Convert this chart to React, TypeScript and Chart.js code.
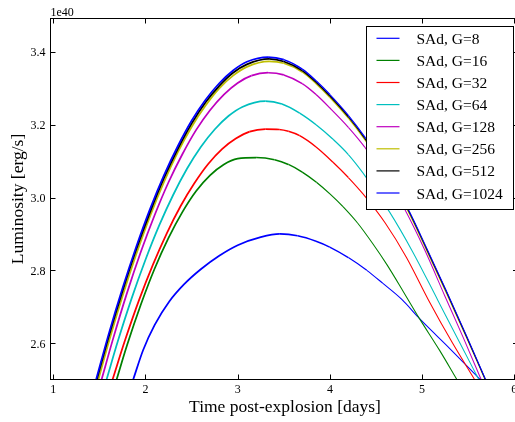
import React, { useEffect, useRef } from "react";
import { Chart, registerables } from "chart.js";

Chart.register(...registerables);

// ---- data (luminosity in units of 1e40 erg/s, time in days) ----
const SERIES_LABELS = ["SAd, G=8", "SAd, G=16", "SAd, G=32", "SAd, G=64", "SAd, G=128", "SAd, G=256", "SAd, G=512", "SAd, G=1024"];
const SERIES_COLORS = ["#0000ff", "#008000", "#ff0000", "#00bfbf", "#bf00bf", "#bfbf00", "#000000", "#0000ff"];

const T_G8 = [1.867, 1.975, 2.1, 2.26, 2.42, 2.6, 2.8, 3.0, 3.25, 3.457, 3.65, 3.85, 3.998, 4.2, 4.4, 4.575, 4.78, 4.97, 5.16, 5.3, 5.63];
const L_G8 = [2.5, 2.581, 2.65, 2.715, 2.762, 2.803, 2.84, 2.869, 2.891, 2.9, 2.895, 2.88, 2.864, 2.835, 2.8, 2.764, 2.72, 2.668, 2.62, 2.585, 2.5];

const T_G16 = [1.687, 1.8, 1.95, 2.1, 2.25, 2.4, 2.55, 2.7, 2.85, 3.0, 3.2, 3.4, 3.55, 3.7, 3.854, 4.0, 4.142, 4.3, 4.46, 4.62, 4.8, 4.97, 5.19, 5.377];
const L_G16 = [2.5, 2.594, 2.706, 2.805, 2.889, 2.96, 3.018, 3.061, 3.091, 3.107, 3.11, 3.104, 3.091, 3.07, 3.042, 3.01, 2.975, 2.93, 2.875, 2.815, 2.74, 2.668, 2.58, 2.5];

const T_G32 = [1.643, 1.78, 1.93, 2.08, 2.23, 2.38, 2.53, 2.68, 2.83, 2.98, 3.13, 3.3, 3.45, 3.55, 3.672, 3.85, 4.034, 4.2, 4.359, 4.6, 4.829, 5.07, 5.33, 5.569];
const L_G32 = [2.5, 2.609, 2.718, 2.815, 2.901, 2.976, 3.039, 3.092, 3.133, 3.162, 3.181, 3.188, 3.187, 3.182, 3.17, 3.139, 3.097, 3.055, 3.01, 2.93, 2.836, 2.718, 2.6, 2.5];

const T_G64 = [1.578, 1.7, 1.85, 2.0, 2.15, 2.3, 2.45, 2.6, 2.75, 2.9, 3.05, 3.3, 3.48, 3.672, 3.85, 4.034, 4.2, 4.36, 4.648, 4.9, 5.17, 5.41, 5.615];
const L_G64 = [2.5, 2.605, 2.723, 2.829, 2.924, 3.007, 3.079, 3.139, 3.187, 3.224, 3.249, 3.265, 3.257, 3.232, 3.2, 3.16, 3.118, 3.067, 2.96, 2.85, 2.718, 2.6, 2.5];

const T_G128 = [1.524, 1.65, 1.8, 1.95, 2.1, 2.25, 2.4, 2.55, 2.7, 2.85, 3.0, 3.15, 3.33, 3.5, 3.7, 3.85, 4.0, 4.2, 4.38, 4.6, 4.8, 5.03, 5.244, 5.45, 5.64];
const L_G128 = [2.5, 2.613, 2.738, 2.851, 2.952, 3.042, 3.119, 3.186, 3.24, 3.283, 3.315, 3.335, 3.343, 3.337, 3.313, 3.283, 3.246, 3.193, 3.138, 3.058, 2.973, 2.855, 2.731, 2.613, 2.5];

const T_G256 = [1.49, 1.6, 1.75, 1.9, 2.05, 2.2, 2.35, 2.5, 2.65, 2.8, 2.95, 3.1, 3.34, 3.5, 3.7, 3.85, 4.0, 4.2, 4.38, 4.6, 4.846, 5.05, 5.26, 5.48, 5.682];
const L_G256 = [2.5, 2.601, 2.728, 2.844, 2.949, 3.042, 3.124, 3.194, 3.252, 3.3, 3.335, 3.359, 3.374, 3.369, 3.345, 3.313, 3.275, 3.218, 3.158, 3.073, 2.963, 2.854, 2.739, 2.616, 2.5];

const T_G512 = [1.473, 1.6, 1.75, 1.9, 2.05, 2.2, 2.35, 2.5, 2.65, 2.8, 2.95, 3.1, 3.34, 3.5, 3.7, 3.85, 4.0, 4.2, 4.38, 4.6, 4.846, 5.05, 5.26, 5.48, 5.686];
const L_G512 = [2.5, 2.616, 2.742, 2.857, 2.96, 3.053, 3.133, 3.203, 3.261, 3.307, 3.343, 3.366, 3.381, 3.374, 3.349, 3.317, 3.279, 3.222, 3.162, 3.077, 2.967, 2.858, 2.743, 2.619, 2.5];

const T_G1024 = [1.465, 1.6, 1.75, 1.9, 2.05, 2.2, 2.35, 2.5, 2.65, 2.8, 2.95, 3.1, 3.33, 3.5, 3.7, 3.85, 4.0, 4.2, 4.38, 4.6, 4.846, 5.05, 5.26, 5.48, 5.688];
const L_G1024 = [2.5, 2.624, 2.75, 2.865, 2.969, 3.061, 3.141, 3.211, 3.268, 3.314, 3.349, 3.373, 3.386, 3.379, 3.353, 3.321, 3.283, 3.226, 3.166, 3.081, 2.97, 2.861, 2.745, 2.621, 2.5];

const SERIES_T = [T_G8, T_G16, T_G32, T_G64, T_G128, T_G256, T_G512, T_G1024];
const SERIES_L = [L_G8, L_G16, L_G32, L_G64, L_G128, L_G256, L_G512, L_G1024];

const X_TICKS = [1, 2, 3, 4, 5, 6];
const X_TICK_LABELS = ["1", "2", "3", "4", "5", "6"];
const Y_TICKS = [2.6, 2.8, 3.0, 3.2, 3.4];
const Y_TICK_LABELS = ["2.6", "2.8", "3.0", "3.2", "3.4"];
const OFFSET_TEXT = "1e40";
const X_TITLE = "Time post-explosion [days]";
const Y_TITLE = "Luminosity [erg/s]";

const FONT = '"Liberation Serif", "Times New Roman", "DejaVu Serif", serif';

const decorations = {
  id: "decorations",
  afterDatasetsDraw(chart: any) {
    const { ctx, chartArea: a, scales } = chart;
    const x = scales.x;
    const y = scales.y;
    ctx.save();
    ctx.strokeStyle = "#000";
    ctx.lineWidth = 1;
    ctx.strokeRect(a.left, a.top, a.right - a.left, a.bottom - a.top);

    // inward ticks on all four sides
    ctx.beginPath();
    X_TICKS.forEach((v) => {
      const px = Math.round(x.getPixelForValue(v)) + 0.5;
      ctx.moveTo(px, a.bottom);
      ctx.lineTo(px, a.bottom - 5);
      ctx.moveTo(px, a.top);
      ctx.lineTo(px, a.top + 5);
    });
    Y_TICKS.forEach((v) => {
      const py = Math.round(y.getPixelForValue(v)) + 0.5;
      ctx.moveTo(a.left, py);
      ctx.lineTo(a.left + 5, py);
      ctx.moveTo(a.right, py);
      ctx.lineTo(a.right - 5, py);
    });
    ctx.stroke();

    // tick labels
    ctx.fillStyle = "#000";
    ctx.font = `12px ${FONT}`;
    ctx.textAlign = "center";
    ctx.textBaseline = "alphabetic";
    X_TICKS.forEach((v, i) => {
      ctx.fillText(X_TICK_LABELS[i], x.getPixelForValue(v), a.bottom + 13.5);
    });
    ctx.textAlign = "right";
    Y_TICKS.forEach((v, i) => {
      ctx.fillText(Y_TICK_LABELS[i], a.left - 5, y.getPixelForValue(v) + 4.5);
    });
    ctx.textAlign = "left";
    ctx.fillText(OFFSET_TEXT, a.left, a.top - 2.5);

    // axis titles
    ctx.font = `17.5px ${FONT}`;
    ctx.textAlign = "center";
    ctx.fillText(X_TITLE, 285, 412);
    ctx.save();
    ctx.translate(22.5, 199);
    ctx.rotate(-Math.PI / 2);
    ctx.fillText(Y_TITLE, 0, 0);
    ctx.restore();

    // legend
    const bx = 366.5, by = 26.5, bw = 147, bh = 183;
    ctx.fillStyle = "#fff";
    ctx.fillRect(bx, by, bw, bh);
    ctx.strokeStyle = "#000";
    ctx.strokeRect(bx, by, bw, bh);
    ctx.font = `15.5px ${FONT}`;
    ctx.textAlign = "left";
    SERIES_LABELS.forEach((lab, i) => {
      const ry = 38.3 + i * 22.1;
      ctx.strokeStyle = SERIES_COLORS[i];
      ctx.lineWidth = 1.2;
      ctx.beginPath();
      ctx.moveTo(376.5, ry);
      ctx.lineTo(399.5, ry);
      ctx.stroke();
      ctx.fillStyle = "#000";
      ctx.fillText(lab, 416.5, ry + 5.5);
    });
    ctx.restore();
  },
};

export default function App() {
  const ref = useRef<HTMLCanvasElement | null>(null);
  useEffect(() => {
    if (!ref.current) return;
    const datasets = SERIES_LABELS.map((lab, i) => {
      const ys = SERIES_L[i];
      const peakX = SERIES_T[i][ys.indexOf(Math.max(...ys))];
      return {
        label: lab,
        data: SERIES_T[i].map((t, j) => ({ x: t, y: ys[j] })),
        borderColor: SERIES_COLORS[i],
        backgroundColor: SERIES_COLORS[i],
        borderWidth: 1.2,
        pointRadius: 0,
        fill: false,
        cubicInterpolationMode: "monotone" as const,
        segment: {
          borderWidth: (c: any) => {
            const mid = (c.p0.parsed.x + c.p1.parsed.x) / 2;
            const f = Math.min(1, Math.max(0, (mid - peakX + 0.1) / 1.2));
            return 1.75 - 0.7 * f;
          },
        },
      };
    }).reverse();
    const chart = new Chart(ref.current, {
      type: "line",
      data: { datasets },
      options: {
        animation: false,
        responsive: false,
        devicePixelRatio: 1,
        layout: { padding: { left: 50.5, top: 18.5, right: 2, bottom: 42.5 } },
        plugins: { legend: { display: false }, tooltip: { enabled: false } },
        scales: {
          x: { type: "linear", min: 0.97, max: 6.04, display: false },
          y: { type: "linear", min: 2.5, max: 3.492, display: false },
        },
      },
      plugins: [decorations],
    });
    return () => chart.destroy();
  }, []);
  return (
    <div style={{ position: "absolute", left: 0, top: 0, width: 515, height: 422, overflow: "hidden", background: "#fff" }}>
      <canvas ref={ref} width={520} height={422} style={{ display: "block" }} />
    </div>
  );
}
